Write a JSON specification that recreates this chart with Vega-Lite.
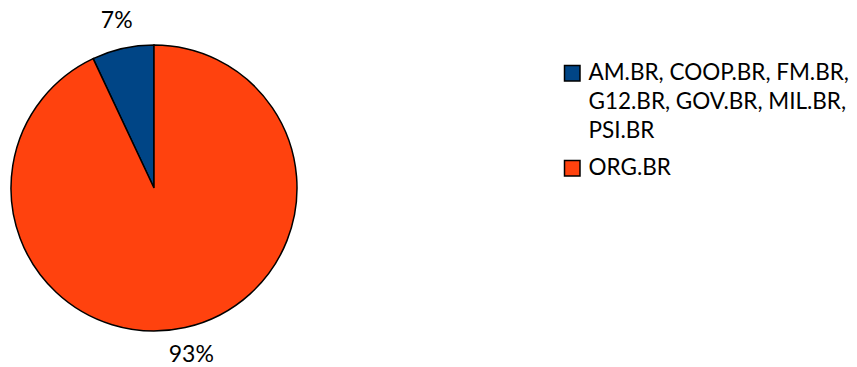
{
  "$schema": "https://vega.github.io/schema/vega-lite/v6.json",
  "width": 308,
  "height": 358,
  "padding": {"left": 0, "top": 9, "right": 5, "bottom": 0},
  "autosize": {"type": "pad"},
  "background": "white",
  "data": {
    "values": [
      {"category": "AM.BR, COOP.BR, FM.BR,\nG12.BR, GOV.BR, MIL.BR,\nPSI.BR", "share": 0.07},
      {"category": "ORG.BR", "share": 0.93}
    ]
  },
  "encoding": {
    "theta": {"field": "share", "type": "quantitative", "stack": true},
    "order": {"field": "share", "type": "quantitative", "sort": "descending"}
  },
  "layer": [
    {
      "mark": {"type": "arc", "outerRadius": 143, "stroke": "black", "strokeWidth": 1.5},
      "encoding": {
        "color": {
          "field": "category",
          "type": "nominal",
          "scale": {"range": ["#004586", "#FF420E"]},
          "legend": {
            "title": null,
            "orient": "none",
            "legendX": 561,
            "legendY": 53,
            "symbolType": "square",
            "symbolSize": 240,
            "symbolStrokeColor": "black",
            "symbolStrokeWidth": 1.5,
            "labelFont": "Lato",
            "labelFontSize": 22.5,
            "labelColor": "black",
            "labelLimit": 400,
            "labelOffset": 5,
            "rowPadding": 14,
            "labelExpr": "split(datum.label, '\\n')",
            "encode": {"labels": {"update": {"lineHeight": {"value": 29}}}}
          }
        }
      }
    },
    {
      "mark": {"type": "text", "radius": 171, "fontSize": 23, "font": "Lato", "color": "black"},
      "encoding": {"text": {"field": "share", "type": "quantitative", "format": ".0%"}}
    }
  ],
  "config": {"view": {"stroke": null}}
}
